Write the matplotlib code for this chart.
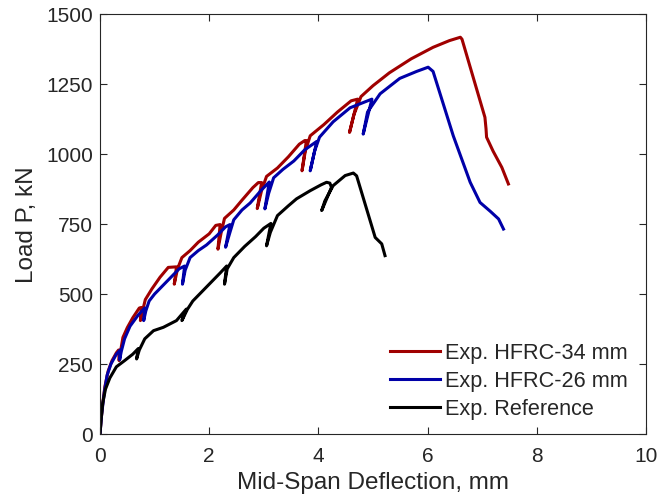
import matplotlib
matplotlib.use("Agg")
import matplotlib.pyplot as plt

plt.rcParams['font.family'] = ['Liberation Sans', 'DejaVu Sans']

# Exp. HFRC-34 mm
x34 = [0, 0.02, 0.05, 0.09, 0.15, 0.22, 0.30, 0.34, 0.35, 0.38,
       0.42, 0.50, 0.60, 0.72, 0.76, 0.74, 0.78, 0.83,
       0.95, 1.10, 1.25, 1.40, 1.36, 1.42, 1.50,
       1.65, 1.80, 2.00, 2.12, 2.20, 2.16, 2.22, 2.28,
       2.45, 2.60, 2.80, 2.90, 2.96, 2.88, 2.96, 3.05,
       3.25, 3.45, 3.65, 3.75, 3.78, 3.70, 3.76, 3.85,
       4.10, 4.35, 4.60, 4.72, 4.57, 4.65, 4.78,
       5.00, 5.30, 5.70, 6.10, 6.40, 6.60, 6.63, 7.05, 7.07, 7.08, 7.20, 7.36, 7.48]
y34 = [0, 50, 110, 170, 225, 262, 290, 300, 262, 300,
       345, 380, 415, 450, 452, 405, 440, 480,
       518, 560, 595, 597, 535, 590, 630,
       655, 685, 715, 745, 748, 660, 720, 770,
       800, 835, 880, 898, 898, 805, 870, 920,
       950, 990, 1035, 1048, 1048, 940, 1010, 1065,
       1105, 1150, 1190, 1196, 1077, 1140, 1205,
       1244, 1290, 1340, 1381, 1405, 1417, 1410, 1131, 1090, 1060, 1010, 952, 893]

# Exp. HFRC-26 mm
x26 = [0, 0.03, 0.08, 0.13, 0.20, 0.30, 0.37, 0.36, 0.39,
       0.45, 0.55, 0.70, 0.82, 0.80, 0.84, 0.90,
       1.00, 1.15, 1.30, 1.45, 1.55, 1.51, 1.56, 1.65,
       1.80, 1.95, 2.15, 2.30, 2.38, 2.30, 2.38, 2.45,
       2.60, 2.75, 2.95, 3.10, 3.02, 3.09, 3.18,
       3.35, 3.55, 3.75, 3.97, 3.85, 3.93, 4.02,
       4.27, 4.58, 4.98, 4.82, 4.90, 5.13,
       5.49, 5.80, 6.01, 6.10, 6.47, 6.78, 6.96, 7.15, 7.30, 7.39]
y26 = [0, 70, 150, 210, 250, 285, 300, 265, 295,
       340, 385, 425, 450, 405, 440, 475,
       500, 530, 560, 590, 600, 535, 585, 630,
       655, 675, 710, 740, 748, 667, 720, 765,
       800, 825, 870, 900, 804, 860, 915,
       945, 975, 1015, 1045, 940, 1010, 1060,
       1115, 1165, 1196, 1071, 1150, 1215,
       1270, 1295, 1310, 1295, 1065, 899, 827, 795, 768, 732]

# Exp. Reference
xref = [0, 0.02, 0.05, 0.10, 0.18, 0.30, 0.45, 0.60, 0.70, 0.67, 0.72,
        0.82, 0.98, 1.16, 1.40, 1.58, 1.50, 1.60,
        1.70, 1.85, 2.05, 2.20, 2.32, 2.28, 2.33,
        2.45, 2.65, 2.85, 3.00, 3.13, 3.05, 3.12, 3.25,
        3.45, 3.60, 3.85, 4.05, 4.15, 4.21, 4.24, 4.06, 4.12, 4.27,
        4.49, 4.64, 4.70, 5.04, 5.16, 5.22]
yref = [0, 50, 110, 160, 200, 240, 262, 285, 305, 268, 300,
        340, 369, 381, 405, 446, 405, 445,
        475, 505, 545, 575, 600, 535, 590,
        630, 670, 705, 735, 752, 672, 720, 780,
        815, 840, 869, 890, 899, 896, 881, 798, 833, 887,
        923, 932, 922, 702, 679, 637]

series_labels = ['Exp. HFRC-34 mm', 'Exp. HFRC-26 mm', 'Exp. Reference']
colors = ['#a00000', '#0000a8', '#000000']

fig = plt.figure(figsize=(6.72, 5.02), dpi=100)
ax = fig.add_axes([100/672, 1-435/502, 546/672, 420/502])

ax.plot(x34, y34, color=colors[0], lw=2.2, label=series_labels[0])
ax.plot(x26, y26, color=colors[1], lw=2.2, label=series_labels[1])
ax.plot(xref, yref, color=colors[2], lw=2.2, label=series_labels[2])

ax.set_xlim(0, 10)
ax.set_ylim(0, 1500)
ax.set_xticks([0, 2, 4, 6, 8, 10])
ax.set_yticks([0, 250, 500, 750, 1000, 1250, 1500])
ax.tick_params(direction='in', top=True, right=True, length=5, width=0.8,
               labelsize=15, colors='#262626')
ax.tick_params(axis='x', pad=9)
ax.tick_params(axis='y', pad=5)
for s in ax.spines.values():
    s.set_color('#262626')
    s.set_linewidth(0.8)
ax.set_xlabel('Mid-Span Deflection, mm', fontsize=17.5, color='#262626', labelpad=4)
ax.set_ylabel('Load P, kN', fontsize=17.5, color='#262626', labelpad=6)

leg = ax.legend(loc='lower left', bbox_to_anchor=(0.531, 0.035), frameon=False,
                fontsize=15.6, handlelength=2.3, handletextpad=0.23,
                labelspacing=0.32, borderpad=0, borderaxespad=0)
for t in leg.get_texts():
    t.set_color('#262626')

fig.savefig('out.png', dpi=100)
